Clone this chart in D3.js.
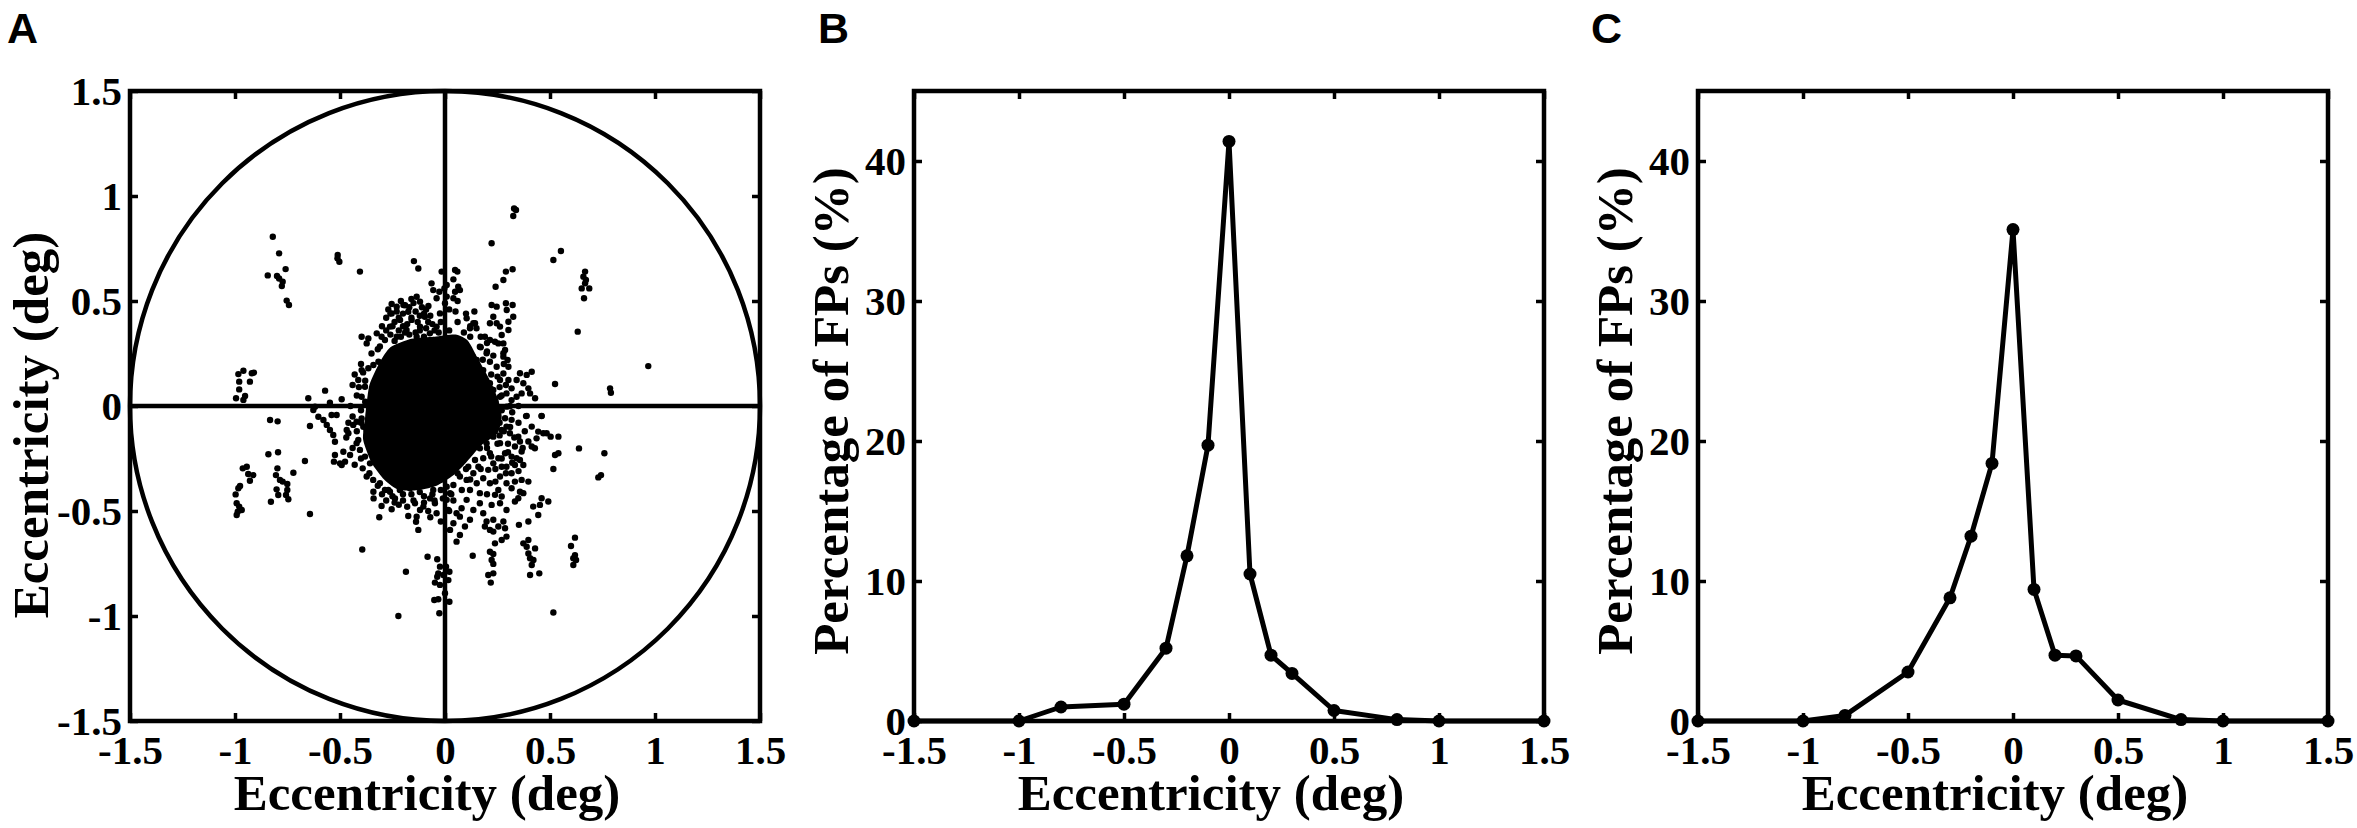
<!DOCTYPE html>
<html lang="en">
<head>
<meta charset="UTF-8">
<title>Fixation positions and eccentricity</title>
<script src="https://d3js.org/d3.v7.min.js"></script>
<style>
  body { margin: 0; background: #fff; }
  svg { display: block; }
  .tick line { stroke: #000; stroke-width: 3.5px; }
  .axis-title { font-family: "Liberation Serif", "Times New Roman", serif; font-weight: 700; font-size: 51px; fill: #000; }
  .panel-label { font-family: "Liberation Sans", Arial, sans-serif; font-weight: 700; font-size: 43px; fill: #000; }
  .frame { fill: none; stroke: #000; stroke-width: 4.5px; }
</style>
</head>
<body>
<svg id="chart" width="2357" height="828"></svg>
<script>
// ---- data ----
const eccTicks = [-1.5, -1, -0.5, 0, 0.5, 1, 1.5];
const eccTickLabels = ["-1.5", "-1", "-0.5", "0", "0.5", "1", "1.5"];
const pctTicks = [0, 10, 20, 30, 40];
const pctTickLabels = ["0", "10", "20", "30", "40"];

// histogram bins (deg) and percentages for B and C
const eccBins = [-1.5, -1, -0.8, -0.5, -0.3, -0.2, -0.1, 0, 0.1, 0.2, 0.3, 0.5, 0.8, 1, 1.5];
const pctB = [0, 0, 1.0, 1.2, 5.2, 11.8, 19.7, 41.4, 10.5, 4.7, 3.4, 0.75, 0.1, 0, 0];
const pctC = [0, 0, 0.4, 3.5, 8.8, 13.2, 18.4, 35.1, 9.4, 4.7, 4.65, 1.5, 0.1, 0, 0];

// saturated centre of the fixation cloud (deg)
const coreOutline = [
  [-0.38, -0.05], [-0.36, 0.10], [-0.31, 0.21], [-0.26, 0.28], [-0.16, 0.32], [-0.05, 0.33],
  [0.05, 0.34], [0.11, 0.31], [0.16, 0.22], [0.21, 0.13], [0.25, 0.04], [0.27, -0.05],
  [0.25, -0.13], [0.17, -0.19], [0.10, -0.27], [0.04, -0.33], [-0.04, -0.38], [-0.12, -0.40],
  [-0.22, -0.40], [-0.29, -0.35], [-0.35, -0.27], [-0.39, -0.16]
];

// individual fixation positions (deg)
const fixUpperLeft = [
  [-0.82,0.806],[-0.79,0.727],[-0.759,0.652],[-0.844,0.622],[-0.80,0.619],[-0.79,0.607],[-0.773,0.592],[-0.777,0.571],[-0.754,0.502],[-0.743,0.481],
  [-0.511,0.719],[-0.503,0.687],[-0.512,0.703],[-0.405,0.640],[-0.148,0.690],[-0.127,0.655],[-0.016,0.640],
  [-0.064,0.584],[-0.056,0.552],[-0.027,0.544],[-0.040,0.513],[-0.003,0.560],
  [-0.984,0.152],[-0.96,0.168],[-0.98,0.116],[-0.92,0.156],[-0.91,0.159],[-0.929,0.116],[-0.98,0.079],[-0.995,0.037],[-0.96,0.029],[-0.952,0.048],
  [-0.651,0.037],[-0.571,0.073],[-0.548,0.016],[-0.492,0.032],[-0.619,-0.003],[-0.833,-0.067],[-0.797,-0.073],
  [-0.397,0.33],[-0.365,0.322],[-0.373,0.298],[-0.325,0.346],[-0.302,0.330],[-0.286,0.314],[-0.31,0.283],
  [-0.254,0.486],[-0.23,0.473],[-0.198,0.481],[-0.175,0.449],[-0.135,0.52],[-0.119,0.497],[-0.079,0.476],[-0.254,0.441],[-0.214,0.41],[-0.262,0.378],[-0.159,0.41],[-0.119,0.378],
  [-0.397,0.171],[-0.365,0.18],[-0.413,0.124],[-0.381,0.092],[-0.341,0.195],[-0.397,0.044],[-0.317,0.211],
  [-0.183,0.362],[-0.135,0.330],[-0.072,0.346],[-0.040,0.378],[-0.056,0.314],[-0.151,0.298],[-0.230,0.330],[-0.207,0.282],[-0.096,0.425],[-0.024,0.441],
  [-0.28,0.42],[-0.24,0.40],[-0.20,0.44],[-0.18,0.39],[-0.14,0.45],[-0.10,0.44],[-0.08,0.40],[-0.12,0.36],[-0.22,0.36],[-0.26,0.34],
  [-0.30,0.38],[-0.17,0.34],[-0.05,0.36],[-0.02,0.40],[-0.10,0.33],[-0.24,0.31],[-0.19,0.48],[-0.15,0.49],[-0.21,0.50],[-0.27,0.46],
  [-0.40,0.20],[-0.42,0.05],[-0.45,0.00],[-0.38,0.12],[-0.43,0.15],[-0.38,0.02],[-0.35,0.25],[-0.32,0.27],
  [-0.26,0.44],[-0.22,0.42],[-0.20,0.38],[-0.16,0.42],[-0.13,0.40],[-0.09,0.37],[-0.07,0.43],[-0.11,0.47],[-0.17,0.47],[-0.23,0.45],
  [-0.25,0.38],[-0.19,0.35],[-0.14,0.35],[-0.06,0.39],[-0.03,0.35],[-0.28,0.36],[-0.21,0.33],[-0.16,0.51],[-0.12,0.43],[-0.09,0.46],
  [-0.41,0.09],[-0.44,0.10],[-0.39,0.16]
];
const fixUpperRight = [
  [0.329,0.941],[0.338,0.933],[0.325,0.905],[0.222,0.775],[0.516,0.695],[0.552,0.738],
  [0.667,0.64],[0.659,0.616],[0.671,0.6],[0.651,0.56],[0.687,0.56],[0.662,0.513],[0.667,0.584],
  [0.632,0.354],[0.968,0.19],[0.524,0.105],[0.786,0.084],[0.79,0.063],
  [0.29,0.64],[0.322,0.651],[0.278,0.6],[0.241,0.568],[0.222,0.481],[0.246,0.473],[0.29,0.489],[0.322,0.481],[0.325,0.425],[0.294,0.457],[0.230,0.425],[0.214,0.394],[0.246,0.394],[0.262,0.378],[0.302,0.401],[0.302,0.362],[0.27,0.338],[0.254,0.298],[0.278,0.298],[0.286,0.267],[0.278,0.235],[0.298,0.219],
  [0.048,0.648],[0.059,0.64],[0.04,0.603],[0.008,0.576],[0.063,0.568],[0.071,0.552],[0.048,0.544],[0.008,0.521],[0.04,0.513],[0.0,0.489],
  [0.103,0.418],[0.135,0.394],[0.119,0.37],[0.143,0.394],[0.19,0.33],[0.214,0.314],[0.238,0.306],[0.278,0.251],[0.302,0.187],[0.357,0.156],[0.389,0.148],[0.413,0.163],[0.373,0.108],[0.397,0.084],[0.405,0.06],[0.341,0.124],[0.317,0.084],[0.341,0.044],[0.429,0.037],[0.302,0.124],[0.262,0.124],[0.23,0.076],[0.365,0.06],[0.294,-0.003],[0.46,-0.048],[0.386,-0.048],
  [0.166,0.282],[0.198,0.251],[0.151,0.219],[0.214,0.211],[0.182,0.171],[0.246,0.187],[0.278,0.155],[0.166,0.124],[0.214,0.108],[0.135,0.092],[0.198,0.060],[0.262,0.044],[0.151,0.028],[0.230,0.012],[0.293,0.060],[0.317,0.028],[0.119,0.155],[0.087,0.187],[0.103,0.251],[0.071,0.124],
  [0.02,0.36],[0.06,0.40],[0.09,0.35],[0.12,0.33],[0.05,0.45],[0.10,0.44],[0.15,0.37],[0.17,0.28],[0.20,0.26],[0.13,0.24],
  [0.22,0.15],[0.26,0.09],[0.24,0.02],[0.27,-0.02],[0.32,-0.03],[0.35,0.00],[0.28,0.20],[0.06,0.50],[0.02,0.46],[0.14,0.45],
  [0.20,0.30],[0.23,0.24],[0.25,0.14],[0.29,0.10],[0.27,0.05],[0.31,0.00],[0.18,0.22],[0.22,0.08],[0.12,0.38],[0.17,0.33]
];
const fixLowerLeft = [
  [-0.643,-0.095],[-0.841,-0.23],[-0.795,-0.22],[-0.667,-0.262],
  [-0.963,-0.297],[-0.944,-0.289],[-0.937,-0.324],[-0.913,-0.329],[-0.929,-0.356],[-0.976,-0.381],[-0.984,-0.392],[-0.997,-0.421],[-0.992,-0.463],[-0.98,-0.479],[-0.968,-0.495],[-0.992,-0.519],[-0.987,-0.503],
  [-0.798,-0.297],[-0.805,-0.329],[-0.786,-0.352],[-0.773,-0.36],[-0.751,-0.371],[-0.802,-0.397],[-0.794,-0.424],[-0.751,-0.4],[-0.757,-0.424],[-0.746,-0.444],[-0.829,-0.456],[-0.722,-0.318],
  [-0.643,-0.514],
  [-0.627,-0.019],[-0.603,-0.051],[-0.579,-0.067],[-0.563,-0.09],[-0.548,-0.114],[-0.532,-0.138],[-0.524,-0.17],[-0.516,-0.043],[-0.54,-0.043],[-0.468,-0.114],[-0.46,-0.13],[-0.437,-0.09],[-0.421,-0.075],[-0.397,-0.059],[-0.389,-0.099],[-0.484,-0.218],[-0.452,-0.233],[-0.524,-0.233],[-0.5,-0.273],[-0.476,-0.265],[-0.492,-0.281],[-0.392,-0.297],[-0.373,-0.114],[-0.413,-0.162],[-0.529,-0.265],
  [-0.341,-0.408],[-0.286,-0.4],[-0.262,-0.408],[-0.238,-0.44],[-0.302,-0.476],[-0.254,-0.492],[-0.313,-0.53],[-0.175,-0.524],[-0.143,-0.463],[-0.119,-0.495],[-0.135,-0.527],[-0.138,-0.551],[-0.127,-0.59],[-0.071,-0.44],[-0.056,-0.4],[-0.048,-0.463],[-0.04,-0.511],[-0.103,-0.479],
  [-0.394,-0.683],[-0.186,-0.789],[-0.222,-1.0],
  [-0.083,-0.718],[-0.037,-0.73],[-0.024,-0.765],[-0.032,-0.797],[-0.037,-0.813],[-0.048,-0.841],[-0.024,-0.852],[-0.051,-0.924],[-0.032,-0.92],[-0.027,-0.987],
  [-0.421,-0.177],[-0.405,-0.209],[-0.381,-0.241],[-0.357,-0.273],[-0.373,-0.336],[-0.342,-0.352],[-0.310,-0.368],[-0.215,-0.400],[-0.167,-0.392],[-0.088,-0.368],[-0.024,-0.352],[0.008,-0.384],
  [-0.40,-0.02],[-0.44,-0.05],[-0.47,-0.15],[-0.42,-0.12],[-0.40,-0.25],[-0.44,-0.20],[-0.36,-0.32],
  [-0.30,-0.42],[-0.25,-0.43],[-0.20,-0.42],[-0.15,-0.45],[-0.10,-0.43],[-0.06,-0.42],[-0.02,-0.40],[-0.18,-0.48],[-0.22,-0.47],[-0.08,-0.50],[-0.02,-0.55],[-0.12,-0.41],[-0.28,-0.45],
  [-0.32,-0.38],[-0.27,-0.40],[-0.24,-0.46],[-0.16,-0.42],[-0.10,-0.46],[-0.05,-0.45],[-0.01,-0.44],[-0.20,-0.45],[-0.34,-0.44],[-0.07,-0.53],
  [-0.40,-0.08],[-0.43,-0.28],[-0.46,-0.08]
];
const fixLowerRight = [
  [0.005,-0.765],[0.021,-0.789],[-0.008,-0.805],[0.016,-0.829],[0.0,-0.892],[0.021,-0.932],
  [0.132,-0.713],
  [0.214,-0.694],[0.23,-0.705],[0.222,-0.733],[0.23,-0.752],[0.206,-0.805],[0.23,-0.797],[0.218,-0.841],
  [0.373,-0.654],[0.397,-0.638],[0.429,-0.678],[0.397,-0.702],[0.405,-0.725],[0.421,-0.733],[0.413,-0.757],[0.405,-0.805],[0.449,-0.797],[0.389,-0.67],
  [0.619,-0.627],[0.6,-0.667],[0.619,-0.71],[0.611,-0.725],[0.624,-0.733],[0.611,-0.757],
  [0.516,-0.983],[0.638,-0.202],[0.759,-0.225],[0.73,-0.34],[0.743,-0.329],
  [0.516,-0.3],[0.524,-0.233],[0.54,-0.225],[0.54,-0.146],[0.503,-0.146],
  [0.389,-0.047],[0.460,-0.047],[0.413,-0.098],[0.444,-0.122],[0.468,-0.130],[0.484,-0.130],[0.436,-0.154],[0.397,-0.169],[0.413,-0.193],[0.428,-0.201],
  [0.349,-0.146],[0.357,-0.169],[0.333,-0.193],[0.365,-0.217],[0.341,-0.249],[0.333,-0.281],[0.357,-0.257],[0.317,-0.320],[0.333,-0.360],[0.365,-0.352],
  [0.397,-0.360],[0.317,-0.392],[0.357,-0.408],[0.373,-0.415],[0.349,-0.439],[0.333,-0.455],[0.293,-0.495],[0.420,-0.479],[0.452,-0.471],[0.460,-0.439],
  [0.492,-0.455],[0.444,-0.519],[0.397,-0.550],[0.352,-0.566],[0.270,-0.431],[0.254,-0.400],[0.238,-0.423],[0.262,-0.463],[0.222,-0.471],[0.182,-0.511],
  [0.198,-0.550],[0.230,-0.542],[0.254,-0.574],[0.286,-0.582],[0.293,-0.622],[0.270,-0.638],[0.238,-0.654],[0.230,-0.598],[0.214,-0.590],[0.190,-0.574],
  [0.278,-0.550],[0.166,-0.415],[0.151,-0.368],[0.182,-0.344],[0.214,-0.368],[0.166,-0.463],[0.135,-0.495],[0.119,-0.542],[0.095,-0.574],[0.071,-0.614],
  [0.055,-0.646],[0.071,-0.527],[0.040,-0.558],[0.024,-0.590],[0.103,-0.447],[0.079,-0.487],[0.055,-0.511],[0.119,-0.400],[0.103,-0.352],[0.071,-0.336],
  [0.040,-0.376],[0.024,-0.415],[0.008,-0.447],[0.016,-0.495],[0.206,-0.304],[0.230,-0.273],[0.254,-0.249],[0.270,-0.289],[0.214,-0.225],[0.182,-0.249],
  [0.159,-0.289],[0.135,-0.320],[0.166,-0.201],[0.198,-0.177],[0.151,-0.154],[0.270,-0.114],[0.293,-0.098],[0.317,-0.066],[0.286,-0.058],[0.262,-0.177],
  [0.230,-0.146],[0.182,-0.122],[0.309,-0.130],[0.286,-0.225],[0.262,-0.336],[0.293,-0.289],[0.317,-0.241],[0.373,-0.281],[0.293,-0.368],[0.143,-0.257],
  [0.111,-0.289],
  [0.03,-0.42],[0.02,-0.50],[0.10,-0.22],[0.13,-0.18],[0.20,-0.20],[0.25,-0.18],[0.22,-0.12],[0.18,-0.10],[0.26,-0.08],[0.30,-0.18],
  [0.10,-0.30],[0.06,-0.32],[0.12,-0.35],[0.17,-0.30],[0.20,-0.42],[0.08,-0.40],[0.04,-0.45],
  [0.28,-0.12],[0.31,-0.10],[0.33,-0.15],[0.30,-0.22],[0.27,-0.25],[0.32,-0.27],[0.35,-0.31],[0.29,-0.32],[0.24,-0.30],[0.22,-0.24],
  [0.26,-0.14],[0.35,-0.08],[0.38,-0.12],[0.37,-0.20],[0.24,-0.36]
];
const fixations = [].concat(fixUpperLeft, fixUpperRight, fixLowerLeft, fixLowerRight);

// ---- layout ----
const svg = d3.select('#chart');
const boxW = 630, boxH = 630, boxTop = 91;
const panelLeft = [130, 914, 1698];
const tickFont = '"Liberation Serif", "Times New Roman", serif';

function styleTicks(sel) {
    sel.attr('font-family', tickFont).attr('font-size', 41).attr('font-weight', 700);
    sel.selectAll('.tick text')
        .style('font-family', tickFont)
        .style('font-size', '41px')
        .style('font-weight', '700')
        .attr('fill', '#000');
}

function drawFrame(g, x, y, yTicks, yLabels) {
    const fmtX = (d, i) => eccTickLabels[i];
    g.append('g').attr('transform', `translate(0,${boxH})`)
        .call(d3.axisBottom(x).tickValues(eccTicks).tickFormat(fmtX).tickSizeInner(-8).tickSizeOuter(0).tickPadding(14))
        .call(styleTicks);
    g.append('g')
        .call(d3.axisTop(x).tickValues(eccTicks).tickFormat('').tickSizeInner(-8).tickSizeOuter(0));
    g.append('g')
        .call(d3.axisLeft(y).tickValues(yTicks).tickFormat((d, i) => yLabels[i]).tickSizeInner(-8).tickSizeOuter(0).tickPadding(8))
        .call(styleTicks);
    g.append('g').attr('transform', `translate(${boxW},0)`)
        .call(d3.axisRight(y).tickValues(yTicks).tickFormat('').tickSizeInner(-8).tickSizeOuter(0));
    g.selectAll('.domain').remove();
    g.append('rect').attr('class', 'frame').attr('width', boxW).attr('height', boxH);
}

function axisTitles(g, yTitle, yTitleX, yTitleY) {
    g.append('text').attr('class', 'axis-title')
        .attr('x', boxW / 2 - 18).attr('y', 719)
        .attr('text-anchor', 'middle')
        .text('Eccentricity (deg)');
    g.append('text').attr('class', 'axis-title')
        .attr('transform', `translate(${yTitleX},${yTitleY}) rotate(-90)`)
        .attr('text-anchor', 'middle')
        .text(yTitle);
}

// ---- panel A: fixation scatter ----
{
    const g = svg.append('g').attr('transform', `translate(${panelLeft[0]},${boxTop})`);
    const x = d3.scaleLinear().domain([-1.5, 1.5]).range([0, boxW]);
    const y = d3.scaleLinear().domain([-1.5, 1.5]).range([boxH, 0]);

    g.append('path')
        .datum(coreOutline)
        .attr('d', d3.line().x(d => x(d[0])).y(d => y(d[1])).curve(d3.curveCardinalClosed.tension(0.4)))
        .attr('fill', '#000');

    g.append('g').selectAll('circle')
        .data(fixations)
        .enter().append('circle')
        .attr('cx', d => x(d[0]))
        .attr('cy', d => y(d[1]))
        .attr('r', 3.2)
        .attr('fill', '#000');

    g.append('ellipse')
        .attr('cx', x(0)).attr('cy', y(0))
        .attr('rx', x(1.5) - x(0)).attr('ry', y(0) - y(1.5))
        .attr('fill', 'none').attr('stroke', '#000').attr('stroke-width', 4.5);
    g.append('line')
        .attr('x1', x(-1.5)).attr('x2', x(1.5)).attr('y1', y(0)).attr('y2', y(0))
        .attr('stroke', '#000').attr('stroke-width', 4.5);
    g.append('line')
        .attr('x1', x(0)).attr('x2', x(0)).attr('y1', y(-1.5)).attr('y2', y(1.5))
        .attr('stroke', '#000').attr('stroke-width', 4.5);

    drawFrame(g, x, y, eccTicks, eccTickLabels);
    axisTitles(g, 'Eccentricity (deg)', -82, 334);
    svg.append('text').attr('class', 'panel-label').attr('x', 7).attr('y', 43).text('A');
}

// ---- panels B and C: percentage of FPs ----
function drawProfile(left, values, label, labelX) {
    const g = svg.append('g').attr('transform', `translate(${left},${boxTop})`);
    const x = d3.scaleLinear().domain([-1.5, 1.5]).range([0, boxW]);
    const y = d3.scaleLinear().domain([0, 45]).range([boxH, 0]);
    const pts = eccBins.map((e, i) => [e, values[i]]);

    drawFrame(g, x, y, pctTicks, pctTickLabels);

    g.append('path')
        .datum(pts)
        .attr('d', d3.line().x(d => x(d[0])).y(d => y(d[1])))
        .attr('fill', 'none').attr('stroke', '#000')
        .attr('stroke-width', 5).attr('stroke-linejoin', 'round');
    g.append('g').selectAll('circle')
        .data(pts)
        .enter().append('circle')
        .attr('cx', d => x(d[0]))
        .attr('cy', d => y(d[1]))
        .attr('r', 6.5)
        .attr('fill', '#000');

    axisTitles(g, 'Percentage of FPs (%)', -66, 320);
    svg.append('text').attr('class', 'panel-label').attr('x', labelX).attr('y', 43).text(label);
}

drawProfile(panelLeft[1], pctB, 'B', 818);
drawProfile(panelLeft[2], pctC, 'C', 1591);
</script>
</body>
</html>
